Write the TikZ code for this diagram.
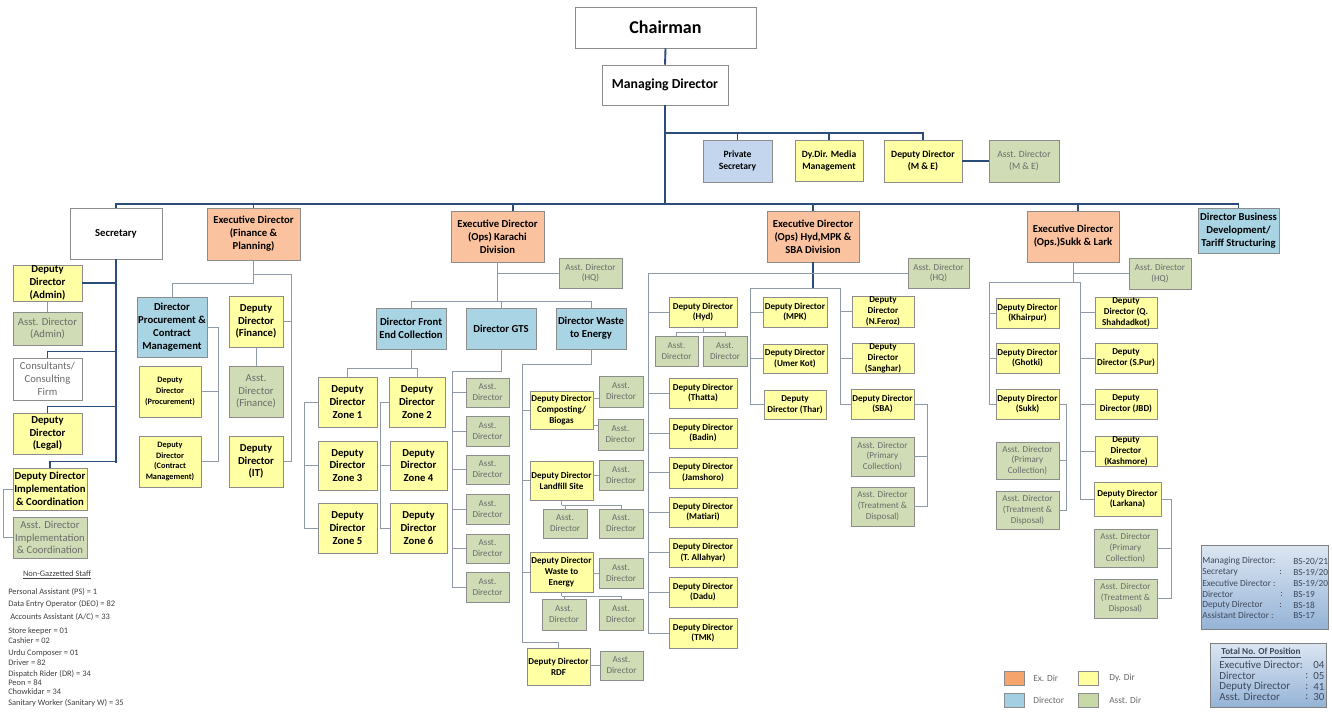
\documentclass[tikz,border=0pt]{standalone}
\usepackage{fontspec}
\setmainfont{Carlito}
\usetikzlibrary{shadows,calc}
\definecolor{exc}{HTML}{FAC29F}
\definecolor{dirc}{HTML}{A8D4E4}
\definecolor{ddc}{HTML}{FFFFA3}
\definecolor{adc}{HTML}{CFDCB5}
\definecolor{psc}{HTML}{C3D6EE}
\definecolor{boxgray}{HTML}{8C8C8C}
\definecolor{lnblue}{HTML}{2C4D7A}
\definecolor{lngray}{HTML}{8F9AA8}
\definecolor{adtext}{HTML}{6B6B6B}
\definecolor{txtgray}{HTML}{404040}
\definecolor{gradtop}{HTML}{DCE6F2}
\definecolor{gradbot}{HTML}{95B3D7}
\definecolor{gtext}{HTML}{3E4A5C}
\definecolor{lgor}{HTML}{F5A46C}
\definecolor{lgbl}{HTML}{A4CFE2}
\definecolor{lgye}{HTML}{FFFF9E}
\definecolor{lggr}{HTML}{C8D8A6}
\newcommand\fsz[2]{\fontsize{#1}{#2}\selectfont}
\newcommand\mkbox[7]{\node[#6, minimum width={(#4-#2)*0.75pt}, minimum height={(#5-#3)*0.75pt}] (#1) at ({(#2+#4)/2},{(#3+#5)/2}) {#7};}
\begin{document}
\begin{tikzpicture}[x=0.75pt,y=-0.75pt,
 bx/.style={draw=boxgray, line width=0.4pt, align=center, inner sep=0pt,
   drop shadow={shadow xshift=0.9pt,shadow yshift=-0.9pt,fill=black,opacity=0.3}},
 whb/.style={bx, fill=white},
 exd/.style={bx, fill=exc, font=\bfseries\fsz{8}{9.8}},
 dirb/.style={bx, fill=dirc, font=\bfseries\fsz{8}{9.6}},
 ddl/.style={bx, fill=ddc, font=\bfseries\fsz{8}{9.6}},
 ddm/.style={bx, fill=ddc, font=\bfseries\fsz{7.2}{9}},
 dds/.style={bx, fill=ddc, font=\bfseries\fsz{6.8}{8.2}},
 ddx/.style={bx, fill=ddc, font=\bfseries\fsz{6.2}{8.2}},
 adl/.style={bx, fill=adc, text=adtext, font=\fsz{8}{9.6}},
 adm/.style={bx, fill=adc, text=adtext, font=\fsz{7.2}{8.6}},
 ads/.style={bx, fill=adc, text=adtext, font=\fsz{6.8}{8.2}},
 mainln/.style={draw=lnblue, line width=1.4pt},
 secln/.style={draw=lnblue, line width=1pt},
 subln/.style={draw=lngray, line width=0.6pt},
 ng/.style={anchor=west, inner sep=0pt, text=txtgray, font=\fsz{6.3}{7}},
 gt/.style={anchor=west, inner sep=0pt, text=gtext, font=\fsz{7}{8}},
 tt/.style={anchor=west, inner sep=0pt, text=gtext, font=\fsz{8.2}{8.4}},
 lg/.style={anchor=west, inner sep=0pt, text=adtext, font=\fsz{7}{8}}
]
\clip (0,0) rectangle (1332,711);
\fill[white] (0,0) rectangle (1332,711);

% ---------- top ----------
\mkbox{chair}{575}{7}{756}{48}{whb,font=\bfseries\fsz{13.5}{15}}{Chairman}
\mkbox{md}{602}{65}{728}{105}{whb,font=\bfseries\fsz{10.3}{12}}{Managing Director}
\mkbox{ps}{703}{140}{772}{182}{bx,fill=psc,font=\bfseries\fsz{7.2}{9.2}}{Private\\Secretary}
\mkbox{media}{795}{140}{863}{181}{ddm}{Dy.Dir. Media\\Management}
\mkbox{ddme}{884}{140}{962}{182}{ddm}{Deputy Director\\(M \& E)}
\mkbox{adme}{989}{140}{1059}{182}{adm}{Asst. Director\\(M \& E)}

% ---------- second level ----------
\mkbox{sec}{70}{208}{162}{259}{whb,font=\bfseries\fsz{8}{9.6}}{Secretary}
\mkbox{edf}{207}{208}{300}{260}{exd}{Executive Director\\(Finance \&\\Planning)}
\mkbox{edk}{451}{211}{544}{262}{exd}{Executive Director\\(Ops) Karachi\\Division}
\mkbox{edh}{767}{211}{859}{262}{exd}{Executive Director\\(Ops) Hyd,MPK \&\\SBA Division}
\mkbox{eds}{1027}{211}{1119}{262}{exd}{Executive Director\\(Ops.)Sukk \& Lark}
\mkbox{dbd}{1198}{208}{1279}{253}{dirb}{Director Business\\Development/\\Tariff Structuring}

% ---------- secretary ----------
\mkbox{ddadm}{13}{265}{82}{301}{ddl}{Deputy\\Director\\(Admin)}
\mkbox{adadm}{13}{312}{82}{345}{adl}{Asst. Director\\(Admin)}
\mkbox{cons}{13}{358}{82}{400}{whb,text=adtext,font=\fsz{8}{9.6}}{Consultants/\\Consulting\\Firm}
\mkbox{ddleg}{13}{413}{82}{454}{ddl}{Deputy\\Director\\(Legal)}
\mkbox{ddimp}{13}{468}{87}{510}{ddl}{Deputy Director\\Implementation\\\& Coordination}
\mkbox{adimp}{13}{517}{87}{558}{adl}{Asst. Director\\Implementation\\\& Coordination}

% ---------- finance ----------
\mkbox{dproc}{137}{297}{207}{357}{dirb}{Director\\Procurement \&\\Contract\\Management}
\mkbox{ddfin}{229}{296}{283}{347}{ddl}{Deputy\\Director\\(Finance)}
\mkbox{adfin}{229}{366}{283}{417}{adl}{Asst.\\Director\\(Finance)}
\mkbox{ddit}{229}{436}{283}{487}{ddl}{Deputy\\Director\\(IT)}
\mkbox{ddproc}{139}{366}{201}{417}{ddx}{Deputy\\Director\\(Procurement)}
\mkbox{ddcon}{139}{436}{201}{487}{ddx}{Deputy\\Director\\(Contract\\Management)}

% ---------- karachi ----------
\mkbox{adhk}{559}{258}{622}{288}{ads}{Asst. Director\\(HQ)}
\mkbox{dfec}{376}{308}{446}{349}{dirb}{Director Front\\End Collection}
\mkbox{dgts}{466}{308}{536}{349}{dirb}{Director GTS}
\mkbox{dwte}{556}{308}{626}{349}{dirb}{Director Waste\\to Energy}
\mkbox{z1}{318}{377}{377}{427}{ddl}{Deputy\\Director\\Zone 1}
\mkbox{z2}{389}{377}{445}{427}{ddl}{Deputy\\Director\\Zone 2}
\mkbox{z3}{318}{441}{377}{490}{ddl}{Deputy\\Director\\Zone 3}
\mkbox{z4}{390}{441}{447}{490}{ddl}{Deputy\\Director\\Zone 4}
\mkbox{z5}{318}{503}{377}{553}{ddl}{Deputy\\Director\\Zone 5}
\mkbox{z6}{390}{503}{447}{553}{ddl}{Deputy\\Director\\Zone 6}
\mkbox{ag1}{466}{378}{509}{407}{ads}{Asst.\\Director}
\mkbox{ag2}{466}{416}{509}{446}{ads}{Asst.\\Director}
\mkbox{ag3}{466}{455}{509}{484}{ads}{Asst.\\Director}
\mkbox{ag4}{466}{494}{509}{524}{ads}{Asst.\\Director}
\mkbox{ag5}{466}{534}{509}{563}{ads}{Asst.\\Director}
\mkbox{ag6}{466}{572}{509}{602}{ads}{Asst.\\Director}
% waste to energy
\mkbox{ddcomp}{530}{391}{593}{429}{dds}{Deputy Director\\Composting/\\Biogas}
\mkbox{ac1}{599}{376}{643}{407}{ads}{Asst.\\Director}
\mkbox{ac2}{598}{419}{643}{450}{ads}{Asst.\\Director}
\mkbox{ddland}{530}{461}{593}{500}{dds}{Deputy Director\\Landfill Site}
\mkbox{al1}{599}{460}{643}{490}{ads}{Asst.\\Director}
\mkbox{al2}{543}{509}{587}{538}{ads}{Asst.\\Director}
\mkbox{al3}{599}{509}{643}{538}{ads}{Asst.\\Director}
\mkbox{ddwte}{530}{552}{593}{592}{dds}{Deputy Director\\Waste to\\Energy}
\mkbox{aw1}{599}{558}{643}{588}{ads}{Asst.\\Director}
\mkbox{aw2}{542}{599}{586}{630}{ads}{Asst.\\Director}
\mkbox{aw3}{599}{599}{643}{630}{ads}{Asst.\\Director}
\mkbox{ddrdf}{527}{648}{590}{685}{dds}{Deputy Director\\RDF}
\mkbox{ar1}{600}{651}{643}{680}{ads}{Asst.\\Director}

% ---------- hyderabad ----------
\mkbox{adhh}{908}{258}{969}{288}{ads}{Asst. Director\\(HQ)}
\mkbox{ddhyd}{669}{297}{737}{327}{dds}{Deputy Director\\(Hyd)}
\mkbox{ah1}{655}{336}{698}{366}{ads}{Asst.\\Director}
\mkbox{ah2}{703}{336}{747}{366}{ads}{Asst.\\Director}
\mkbox{tha}{669}{378}{737}{408}{dds}{Deputy Director\\(Thatta)}
\mkbox{bad}{669}{418}{737}{448}{dds}{Deputy Director\\(Badin)}
\mkbox{jam}{669}{457}{737}{488}{dds}{Deputy Director\\(Jamshoro)}
\mkbox{mat}{669}{497}{737}{527}{dds}{Deputy Director\\(Matiari)}
\mkbox{tal}{669}{538}{737}{567}{dds}{Deputy Director\\(T. Allahyar)}
\mkbox{dad}{669}{577}{737}{607}{dds}{Deputy Director\\(Dadu)}
\mkbox{tmk}{669}{618}{737}{648}{dds}{Deputy Director\\(TMK)}
\mkbox{mpk}{763}{297}{827}{327}{dds}{Deputy Director\\(MPK)}
\mkbox{umk}{763}{344}{827}{373}{dds}{Deputy Director\\(Umer Kot)}
\mkbox{thr}{764}{390}{826}{419}{dds}{Deputy\\Director (Thar)}
\mkbox{nfz}{852}{296}{914}{327}{dds}{Deputy\\Director\\(N.Feroz)}
\mkbox{sgh}{852}{343}{914}{373}{dds}{Deputy\\Director\\(Sanghar)}
\mkbox{sba}{851}{389}{914}{419}{dds}{Deputy Director\\(SBA)}
\mkbox{adpH}{851}{437}{914}{476}{ads}{Asst. Director\\(Primary\\Collection)}
\mkbox{adtH}{851}{487}{914}{526}{ads}{Asst. Director\\(Treatment \&\\Disposal)}

% ---------- sukkur & larkana ----------
\mkbox{adhs}{1129}{258}{1191}{289}{ads}{Asst. Director\\(HQ)}
\mkbox{khp}{996}{298}{1059}{328}{dds}{Deputy Director\\(Khairpur)}
\mkbox{ght}{996}{343}{1059}{373}{dds}{Deputy Director\\(Ghotki)}
\mkbox{suk}{996}{389}{1059}{419}{dds}{Deputy Director\\(Sukk)}
\mkbox{adpS}{996}{442}{1059}{479}{ads}{Asst. Director\\(Primary\\Collection)}
\mkbox{adtS}{996}{491}{1059}{529}{ads}{Asst. Director\\(Treatment \&\\Disposal)}
\mkbox{qsh}{1095}{297}{1157}{328}{dds}{Deputy\\Director (Q.\\Shahdadkot)}
\mkbox{spr}{1095}{343}{1157}{373}{dds}{Deputy\\Director (S.Pur)}
\mkbox{jbd}{1095}{389}{1157}{419}{dds}{Deputy\\Director (JBD)}
\mkbox{ksh}{1095}{436}{1157}{466}{dds}{Deputy\\Director\\(Kashmore)}
\mkbox{lrk}{1094}{482}{1161}{516}{dds}{Deputy Director\\(Larkana)}
\mkbox{adpL}{1094}{529}{1157}{567}{ads}{Asst. Director\\(Primary\\Collection)}
\mkbox{adtL}{1094}{579}{1157}{618}{ads}{Asst. Director\\(Treatment \&\\Disposal)}

% ---------- connectors: main ----------
\coordinate (bar) at (665,204);
\coordinate (b2) at (665,133);
\draw[mainln] (chair.south) -- (md.north);
\draw[mainln] (md.south) -- (bar);
\draw[mainln] (bar) -| (sec.north);
\draw[mainln] (bar) -| (edf.north);
\draw[mainln] (bar) -| ([xshift=11.6pt]edk.north);
\draw[mainln] (bar) -| (edh.north);
\draw[mainln] (bar) -| ([xshift=3.7pt]eds.north);
\draw[mainln] (bar) -| (dbd.north);
\draw[secln] (b2) -| (ps.north);
\draw[secln] (b2) -| (media.north);
\draw[secln] (b2) -| (ddme.north);
\draw[secln] (ddme.east) -- (adme.west);

% secretary
\coordinate (secbot) at (116,462);
\draw[secln] (sec.south) -- (secbot);
\draw[secln] (ddadm.east) -- (ddadm.east -| secbot);
\draw[secln] (cons.north) -- ++(0,-6) -| (secbot);
\draw[secln] (ddleg.north) -- ++(0,-6) -| (secbot);
\draw[secln] (ddimp.north) -- ++(0,-6) -| (secbot);
\draw[subln] (ddadm.south) -- (adadm.north);
\draw[subln] (ddimp.west) -- ++(-9,0) |- (adimp.west);

% finance
\coordinate (finbus) at (291,274);
\draw[subln] (edf.south) -- ++(0,23) -| (dproc.north);
\draw[subln] (edf.south) |- (finbus);
\draw[subln] (finbus) |- (ddfin.east);
\draw[subln] (finbus) |- (ddit.east);
\draw[subln] (ddfin.south) -- (adfin.north);
\draw[subln] (dproc.east) -- ++(11,0) |- (ddproc.east);
\draw[subln] (dproc.east) -- ++(11,0) |- (ddcon.east);

% karachi
\draw[subln] (edk.south) |- (adhk.west);
\draw[subln] (edk.south) -- ++(0,39) -| (dfec.north);
\draw[subln] (edk.south) -- ++(0,39) -| (dgts.north);
\draw[subln] (edk.south) -- ++(0,39) -| (dwte.north);
\draw[subln] (dfec.south) -- ++(0,19) -| (z1.north);
\draw[subln] (dfec.south) -- ++(0,19) -| (z2.north);
\draw[subln] (z1.west) -- ++(-13,0) |- (z5.west);
\draw[subln] (z3.west) -- ++(-13,0);
\draw[subln] (z2.west) -- ++(-8,0) |- (z6.west);
\draw[subln] (z4.west) -- ++(-9,0);
\coordinate (gtsbus) at (452,371);
\draw[subln] (dgts.south) |- (gtsbus);
\foreach \n in {ag1,ag2,ag3,ag4,ag5,ag6}{\draw[subln] (gtsbus) |- (\n.west);}
\coordinate (wbus) at (522,364);
\coordinate (wbot) at (522,642);
\draw[subln] (dwte.south) |- (wbus);
\draw[subln] (wbus) |- (ddcomp.west);
\draw[subln] (wbus) |- (ddland.west);
\draw[subln] (wbus) |- (ddwte.west);
\draw[subln] (wbus) -- (wbot) -| (ddrdf.north);
\draw[subln] (ddcomp.east |- 0,398) -- (ac1.west |- 0,398);
\draw[subln] (ddcomp.east |- 0,425) -- (ac2.west |- 0,425);
\draw[subln] (ddland.east |- 0,475) -- (al1.west |- 0,475);
\draw[subln] (ddland.south) -- ++(0,5) coordinate (lbr);
\draw[subln] (lbr) -| (al2.north);
\draw[subln] (lbr) -| (al3.north);
\draw[subln] (ddwte.east |- 0,573) -- (aw1.west |- 0,573);
\draw[subln] (ddwte.south) -- ++(0,4) coordinate (wbr);
\draw[subln] (wbr) -| (aw2.north);
\draw[subln] (wbr) -| (aw3.north);
\draw[subln] (ddrdf.east |- 0,665) -- (ar1.west |- 0,665);

% hyderabad
\coordinate (hlb) at (648,273);
\coordinate (mb) at (750,288);
\coordinate (rb) at (840,288);
\draw[secln] (edh.south) -- ++(0,26) coordinate (hb);
\draw[subln] (mb) -- (rb);
\draw[subln] (hlb) -- (adhh.west);
\foreach \n in {ddhyd,tha,bad,jam,mat,tal,dad,tmk}{\draw[subln] (hlb) |- (\n.west);}
\foreach \n in {mpk,umk,thr}{\draw[subln] (mb) |- (\n.west);}
\foreach \n in {nfz,sgh,sba}{\draw[subln] (rb) |- (\n.west);}
\draw[subln] (ddhyd.south) -- ++(0,5) coordinate (hh);
\draw[subln] (hh) -| (ah1.north);
\draw[subln] (hh) -| (ah2.north);
\draw[subln] (sba.east) -- ++(13,0) |- (adpH.east);
\draw[subln] (sba.east) -- ++(13,0) |- (adtH.east);

% sukkur
\coordinate (slb) at (989,282);
\coordinate (srb) at (1080,282);
\draw[subln] (eds.south) |- (adhs.west);
\draw[subln] (eds.south) -- ++(0,20);
\draw[subln] (slb) -- (srb);
\foreach \n in {khp,ght,suk}{\draw[subln] (slb) |- (\n.west);}
\foreach \n in {qsh,spr,jbd,ksh,lrk}{\draw[subln] (srb) |- (\n.west);}
\draw[subln] (suk.east) -- ++(7,0) |- (adpS.east);
\draw[subln] (suk.east) -- ++(7,0) |- (adtS.east);
\draw[subln] (lrk.east) -- ++(10,0) |- (adpL.east);
\draw[subln] (lrk.east) -- ++(10,0) |- (adtL.east);

% ---------- non-gazetted staff ----------
\node[ng,anchor=center] (ng0) at (57,575) {\underline{Non-Gazzetted Staff}};
\node[ng] (ng1) at (8,592) {Personal Assistant (PS) = 1};
\node[ng] (ng2) at (8,604) {Data Entry Operator (DEO) = 82};
\node[ng] (ng3) at (10,617) {Accounts Assistant (A/C) = 33};
\node[ng] (ng4) at (8,631) {Store keeper = 01};
\node[ng] (ng5) at (8,641) {Cashier = 02};
\node[ng] (ng6) at (8,653) {Urdu Composer = 01};
\node[ng] (ng7) at (8,663) {Driver = 82};
\node[ng] (ng8) at (8,674) {Dispatch Rider (DR) = 34};
\node[ng] (ng9) at (8,683) {Peon = 84};
\node[ng] (ng10) at (8,692) {Chowkidar = 34};
\node[ng] (ng11) at (8,703) {Sanitary Worker (Sanitary W) = 35};

% ---------- legend ----------
\mkbox{lg1}{1004}{671}{1024}{685}{bx,fill=lgor}{}
\mkbox{lg2}{1004}{693}{1024}{707}{bx,fill=lgbl}{}
\mkbox{lg3}{1078}{671}{1098}{685}{bx,fill=lgye}{}
\mkbox{lg4}{1078}{693}{1098}{707}{bx,fill=lggr}{}
\node[lg] (lt1) at (1033,678) {Ex. Dir};
\node[lg] (lt2) at (1033,700) {Director};
\node[lg] (lt3) at (1109,678) {Dy. Dir};
\node[lg] (lt4) at (1109,700) {Asst. Dir};

% ---------- grade box ----------
\mkbox{grade}{1201}{545}{1328}{629}{bx,draw=gray,top color=gradtop,bottom color=gradbot}{}
\node[gt] (g1) at (1202,561) {Managing Director:};
\node[gt] (g2) at (1202,572) {Secretary};
\node[gt] (g3) at (1202,583) {Executive Director :};
\node[gt] (g4) at (1202,594) {Director};
\node[gt] (g5) at (1202,605) {Deputy Director};
\node[gt] (g6) at (1202,615) {Assistant Director :};
\node[gt] (c2) at (1279,572) {:};
\node[gt] (c4) at (1280,594) {:};
\node[gt] (c5) at (1279,605) {:};
\node[gt] (v1) at (1293,561) {BS-20/21};
\node[gt] (v2) at (1293,572) {BS-19/20};
\node[gt] (v3) at (1293,583) {BS-19/20};
\node[gt] (v4) at (1293,594) {BS-19};
\node[gt] (v5) at (1293,605) {BS-18};
\node[gt] (v6) at (1293,615) {BS-17};

% ---------- totals box ----------
\mkbox{total}{1210}{643}{1326}{707}{bx,draw=gray,top color=gradtop,bottom color=gradbot}{}
\node[tt,anchor=center,font=\bfseries\fsz{6.9}{8}] (t0) at (1261,653) {\underline{Total No. Of Position}};
\node[tt] (t1) at (1219,665) {Executive Director:};
\node[tt] (t2) at (1219,676) {Director};
\node[tt] (t3) at (1219,687) {Deputy Director};
\node[tt] (t4) at (1219,697) {Asst. Director};
\node[tt] (tc2) at (1305,676) {:};
\node[tt] (tc3) at (1305,687) {:};
\node[tt] (tc4) at (1305,697) {:};
\node[tt] (tv1) at (1313,665) {04};
\node[tt] (tv2) at (1313,676) {05};
\node[tt] (tv3) at (1313,687) {41};
\node[tt] (tv4) at (1313,697) {30};
\end{tikzpicture}
\end{document}
